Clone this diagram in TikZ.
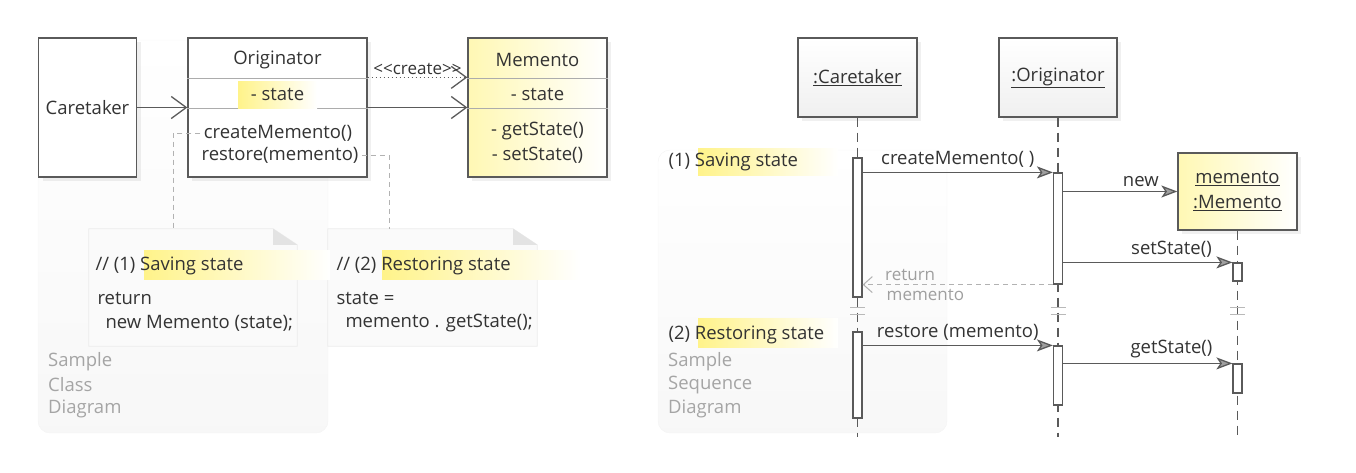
\documentclass[tikz,border=0pt]{standalone}
\usepackage{fontspec}
\setmainfont{Open Sans}[Ligatures=TeXOff]
\usepackage{tikz}
\usetikzlibrary{positioning, calc, arrows.meta, shadows}

\definecolor{linegray}{HTML}{5A5A5A}
\definecolor{textgray}{HTML}{333333}
\definecolor{hlyellow}{HTML}{FFF38A}
\definecolor{memyellow}{HTML}{FFF8B4}
\definecolor{notegray}{HTML}{FAFAFA}
\definecolor{labelgray}{HTML}{A5A5A5}

\tikzset{
  panel/.style={draw=gray!9, top color=white, bottom color=gray!6, rounded corners=12pt, inner sep=0pt},
  box/.style={draw=linegray, line width=1.3pt, fill=white, inner sep=0pt,
    drop shadow={opacity=0.12, shadow xshift=4pt, shadow yshift=-4pt}},
  yellowbox/.style={box, left color=memyellow, right color=white},
  objbox/.style={box, top color=white, bottom color=gray!12},
  divider/.style={draw=gray!65, line width=0.9pt},
  hlbox/.style={left color=hlyellow, right color=white, inner sep=0pt, draw=none},
  assoc/.style={draw=linegray, line width=1.3pt, -{Straight Barb[length=15pt, width=22pt]}},
  create/.style={draw=linegray, line width=1.3pt, dash pattern=on 1.5pt off 2.5pt, -{Straight Barb[length=15pt, width=22pt]}},
  notelink/.style={draw=gray!60, line width=1pt, dash pattern=on 5pt off 4pt},
  notebox/.style={inner sep=0pt},
  lifeline/.style={draw=linegray, line width=1.3pt, dash pattern=on 9pt off 6pt},
  act/.style={draw=linegray, line width=1.2pt, fill=white, minimum width=9, inner sep=0pt},
  msg/.style={draw=linegray, line width=1.3pt, -{Stealth[length=16pt, width=12pt, inset=4pt, fill=gray!75]}},
  ret/.style={draw=gray!60, line width=1pt, dash pattern=on 5pt off 4pt, -{Straight Barb[length=9pt, width=16pt]}},
  retlbl/.style={text=gray!75, inner sep=1pt, font=\fontsize{17}{20}\selectfont},
  samplelbl/.style={text=labelgray, anchor=west, inner sep=0pt},
  brk/.style={draw=gray!55, line width=1pt},
}

\begin{document}
\begin{tikzpicture}[x=1pt, y=-1pt, font=\fontsize{18.5}{25}\selectfont, text=textgray]

  \useasboundingbox (0,0) rectangle (1356,472);

  % background panels

  \node[panel, minimum width=290, minimum height=393] (classpanel) at (183,236.5) {};
  \node[panel, minimum width=289, minimum height=283] (seqpanel) at (802.5,291.5) {};

  % CLASS DIAGRAM

  \node[box, minimum width=98, minimum height=139] (caretaker) at (87.5,107.5) {Caretaker};

  \node[box, minimum width=179, minimum height=139] (orig) at (277.5,107.5) {};
  \draw[divider] ($(orig.north west)+(0,41)$) -- ($(orig.north east)+(0,41)$);
  \draw[divider] ($(orig.north west)+(0,71)$) -- ($(orig.north east)+(0,71)$);
  \node[hlbox, minimum width=79, minimum height=27] (orighl) at (277.5,94.5) {};
  \node (origname) at (277.5,60) {Originator};
  \node (origstate) at (277.5,94) {- state};
  \node (cm) at (278,133) {createMemento()};
  \node (rm) at (280,155) {restore(memento)};

  \node[yellowbox, minimum width=139, minimum height=139] (memento) at (537.5,107.5) {};
  \draw[divider] ($(memento.north west)+(0,41)$) -- ($(memento.north east)+(0,41)$);
  \draw[divider] ($(memento.north west)+(0,71)$) -- ($(memento.north east)+(0,71)$);
  \node (memname) at (537.5,60) {Memento};
  \node (memstate) at (537.5,94) {- state};
  \node (memget) at (537.5,131) {- getState()};
  \node (memset) at (537.5,155) {- setState()};

  \draw[assoc] (caretaker.east) -- (orig.west);
  \draw[assoc] (orig.east) -- (memento.west);
  \draw[create] ($(orig.north east)+(0,40)$) -- node[above=-1pt, font=\fontsize{17}{20}\selectfont] (createlbl) {<<create>>} ($(memento.north west)+(0,40)$);

  % notes

  \node[notebox, minimum width=208, minimum height=117] (note1) at (193,287.5) {};
  \node[notebox, minimum width=209, minimum height=117] (note2) at (432.5,287.5) {};

  \foreach \n in {note1,note2} {
    \filldraw[fill=notegray, draw=gray!15, line width=0.8pt] (\n.north west) -- ($(\n.north east)+(-24,0)$) -- ($(\n.north east)+(0,16)$) -- (\n.south east) -- (\n.south west) -- cycle;
    \fill[gray!22] ($(\n.north east)+(-24,0)$) -- ($(\n.north east)+(0,16)$) -- ($(\n.north east)+(-24,16)$) -- cycle;
  }

  \coordinate (note1top) at (173,229);
  \coordinate (note2top) at (389,229);
  \draw[notelink] (cm.west) -| (note1top);
  \draw[notelink] (rm.east) -| (note2top);

  \node[hlbox, minimum width=186, minimum height=29] (hl1) at (237,264.5) {};
  \node[hlbox, minimum width=198, minimum height=29] (hl2) at (481,264.5) {};

  \node[anchor=west] (n1head) at (92,266) {// (1) Saving state};
  \node[anchor=west] (n1ret) at (94,298) {return};
  \node[anchor=west] (n1new) at (102,323) {new Memento (state);};

  \node[anchor=west] (n2head) at (333,266) {// (2) Restoring state};
  \node[anchor=west] (n2st) at (333,298) {state =};
  \node[anchor=west] (n2get) at (342,323) {memento . getState();};

  \foreach \txt/\yy [count=\i] in {Sample/362, Class/385, Diagram/409}
    \node[samplelbl] (classlbl\i) at (48,\yy) {\txt};

  % SEQUENCE DIAGRAM

  \node[objbox, minimum width=119, minimum height=79] (ct) at (857.5,77.5) {\underline{:Caretaker}};
  \node[objbox, minimum width=118, minimum height=79] (or) at (1058,77.5) {\underline{:Originator}};
  \node[yellowbox, minimum width=119, minimum height=77, align=center] (mem) at (1237.5,191.5) {\underline{memento}\\\underline{:Memento}};

  \coordinate (ctend) at (857.5,437);
  \coordinate (orend) at (1058,437);
  \coordinate (memend) at (1237.5,437);
  \draw[lifeline] (ct.south) -- (ctend);
  \draw[lifeline] (or.south) -- (orend);
  \draw[lifeline] (mem.south) -- (memend);

  \foreach \ll in {ct,or,mem} {
    \draw[brk] ($(\ll.south |- 0,307)+(-7.5,0)$) -- ($(\ll.south |- 0,307)+(7.5,0)$);
    \draw[brk] ($(\ll.south |- 0,314)+(-7.5,0)$) -- ($(\ll.south |- 0,314)+(7.5,0)$);
  }

  % activations

  \node[act, minimum height=139] (ctact1) at (857.5,227.5) {};
  \node[act, minimum height=86] (ctact2) at (857.5,375) {};
  \node[act, minimum height=111] (oract1) at (1058,228.5) {};
  \node[act, minimum height=59] (oract2) at (1058,375.5) {};
  \node[act, minimum height=18] (memact1) at (1237.5,272) {};
  \node[act, minimum height=29] (memact2) at (1237.5,378.5) {};

  % messages

  \draw[msg] (ctact1.east |- oract1.north) -- node[above=1pt] (cmlbl) {createMemento( )} (oract1.north west);
  \draw[msg] (oract1.east |- mem.west) -- node[pos=0.68, above=1pt] (newlbl) {new} (mem.west);
  \draw[msg] (oract1.east |- memact1.north) -- node[pos=0.64, above=1pt] (setlbl) {setState()} (memact1.north west);
  \draw[ret] (oract1.south west) -- (ctact1.east |- oract1.south)
    node[retlbl, pos=0.75, above=2pt] (retlbl1) {return}
    node[retlbl, pos=0.67, below=3pt] (retlbl2) {memento};
  \draw[msg] (ctact2.east |- oract2.north) -- node[above=1pt] (rslbl) {restore (memento)} (oract2.north west);
  \draw[msg] (oract2.east |- memact2.north) -- node[pos=0.64, above=1pt] (getlbl) {getState()} (memact2.north west);

  % phase labels

  \node[hlbox, minimum width=140, minimum height=27] (phase1hl) at (768,161.5) {};
  \node[hlbox, minimum width=140, minimum height=29] (phase2hl) at (768,332.5) {};
  \node[anchor=west] (phase1) at (665,162) {(1) Saving state};
  \node[anchor=west] (phase2) at (665,335) {(2) Restoring state};

  \foreach \txt/\yy [count=\i] in {Sample/362, Sequence/385, Diagram/409}
    \node[samplelbl] (seqlbl\i) at (668,\yy) {\txt};

\end{tikzpicture}
\end{document}
